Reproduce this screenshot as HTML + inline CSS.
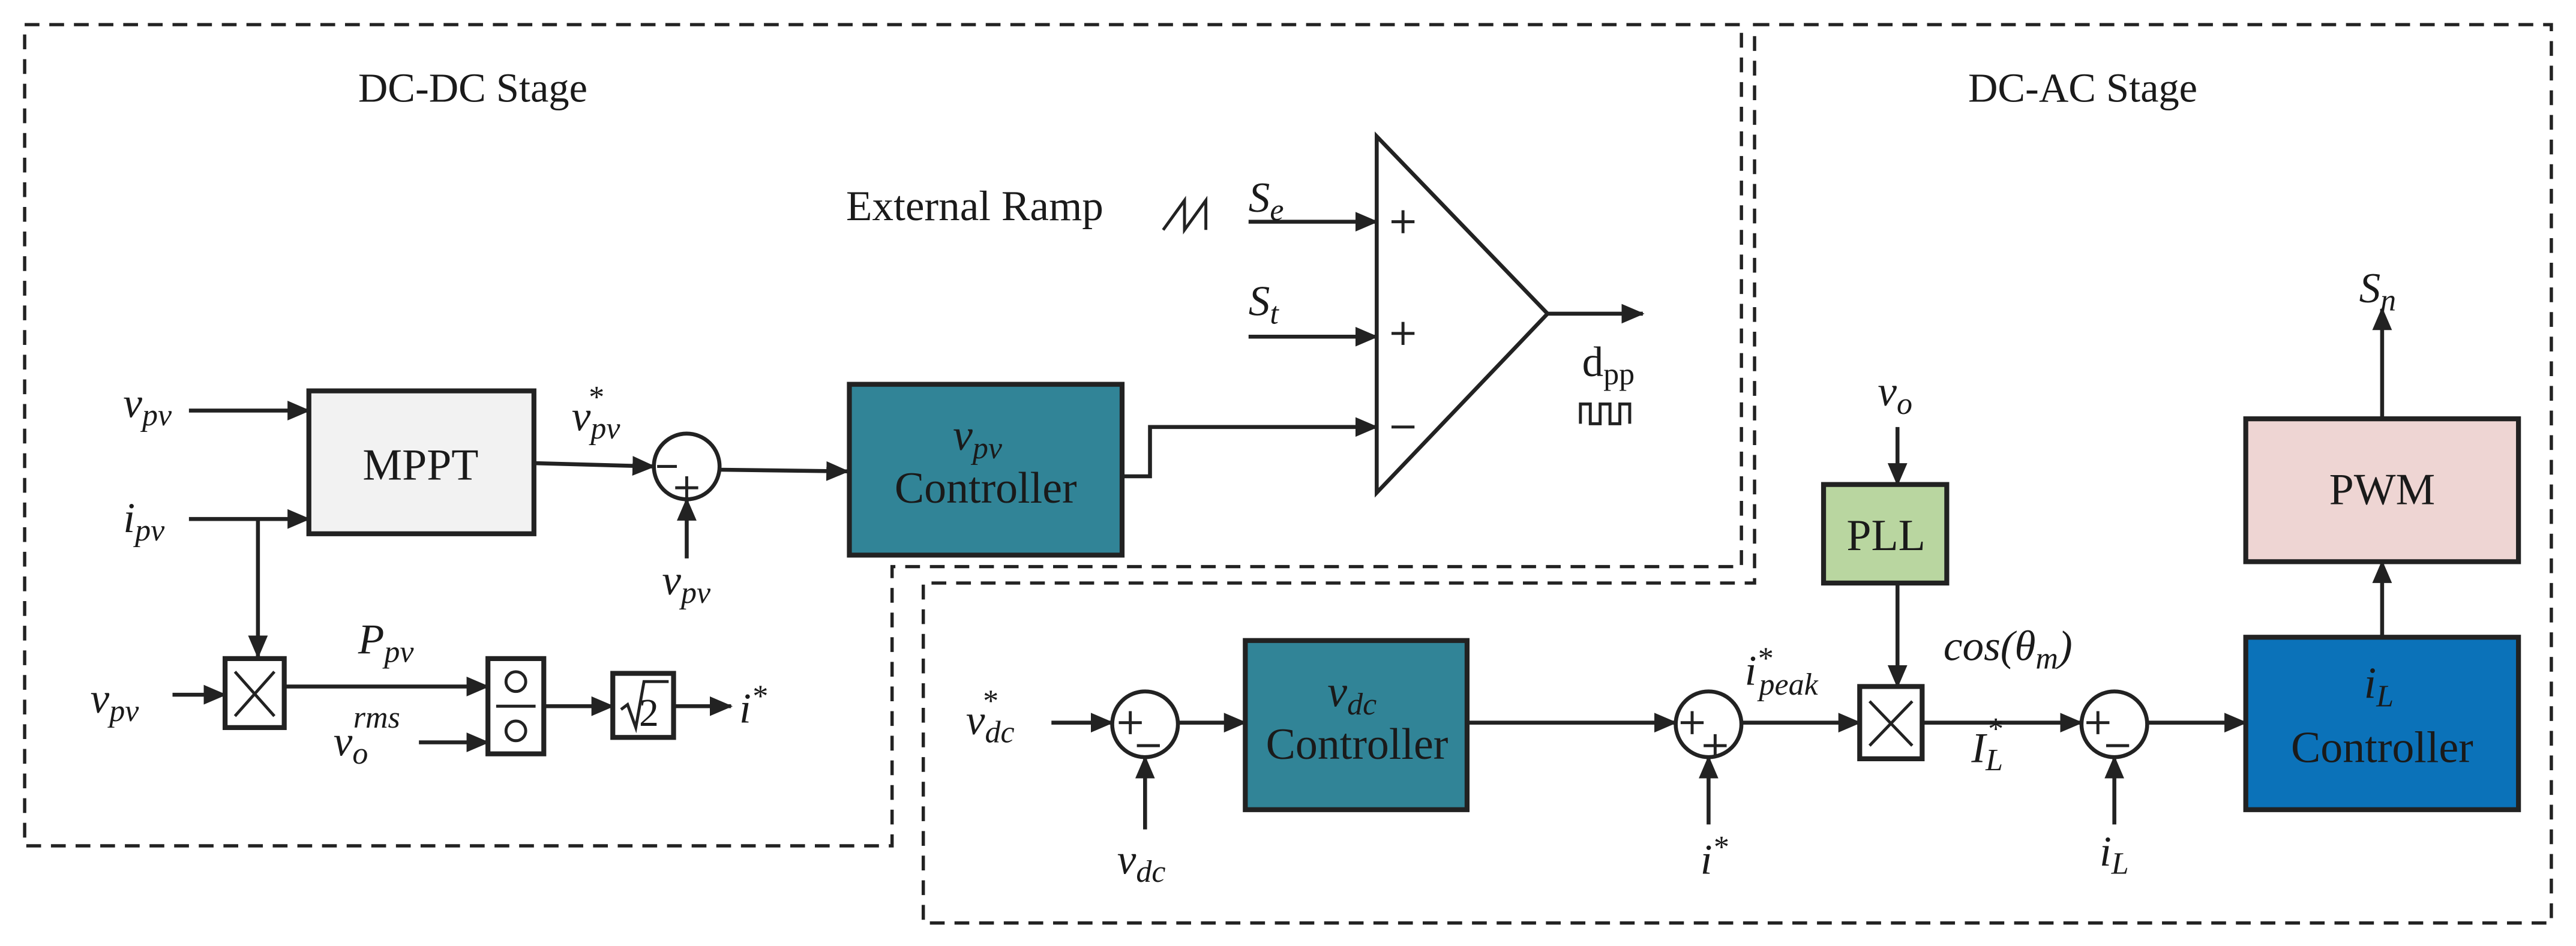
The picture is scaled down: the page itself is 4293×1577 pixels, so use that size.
<!DOCTYPE html>
<html><head><meta charset="utf-8"><style>
html,body{margin:0;padding:0;background:#fff;}
svg{display:block;font-family:"Liberation Serif",serif;}
text,tspan{font-family:"Liberation Serif",serif;fill:#1a1a1a;}
.i{font-style:italic;}
</style></head><body>
<svg width="4293" height="1577" viewBox="0 0 1568 576" xmlns="http://www.w3.org/2000/svg" font-family="Liberation Serif, serif">
<defs>
<marker id="a" markerWidth="14" markerHeight="12" refX="13" refY="6" orient="auto" markerUnits="userSpaceOnUse">
<path d="M0,0 L14,6 L0,12 Z" fill="#222"/></marker>
</defs>
<g fill="none" stroke="#222" stroke-width="2" stroke-dasharray="9,6">
<path d="M15,15 H1060 V345 H543 V515 H15 Z"/>
<path d="M1068,15 H1553 V562 H562 V355 H1068 Z"/>
</g>
<text x="218" y="62" font-size="25">DC-DC Stage</text>
<text x="1198" y="62" font-size="25">DC-AC Stage</text>

<g stroke="#222" stroke-width="2.4" fill="none">
<line x1="115" y1="250" x2="188" y2="250" marker-end="url(#a)"/>
<line x1="115" y1="316" x2="188" y2="316" marker-end="url(#a)"/>
<line x1="157" y1="316" x2="157" y2="400" marker-end="url(#a)"/>
<line x1="105" y1="423" x2="137" y2="423" marker-end="url(#a)"/>
<line x1="173" y1="418" x2="297" y2="418" marker-end="url(#a)"/>
<line x1="255" y1="452" x2="297" y2="452" marker-end="url(#a)"/>
<line x1="331" y1="430" x2="373" y2="430" marker-end="url(#a)"/>
<line x1="410" y1="430" x2="445" y2="430" marker-end="url(#a)"/>
<line x1="325" y1="282" x2="398" y2="284" marker-end="url(#a)"/>
<line x1="418" y1="340" x2="418" y2="304" marker-end="url(#a)"/>
<line x1="438" y1="286" x2="516" y2="287" marker-end="url(#a)"/>
<polyline points="683,290 700,290 700,260 838,260" marker-end="url(#a)"/>
<line x1="760" y1="135" x2="838" y2="135" marker-end="url(#a)"/>
<line x1="760" y1="205" x2="838" y2="205" marker-end="url(#a)"/>
<line x1="942" y1="191" x2="1000" y2="191" marker-end="url(#a)"/>
<line x1="640" y1="440" x2="677" y2="440" marker-end="url(#a)"/>
<line x1="697" y1="505" x2="697" y2="461" marker-end="url(#a)"/>
<line x1="717" y1="440" x2="758" y2="440" marker-end="url(#a)"/>
<line x1="893" y1="440" x2="1020" y2="440" marker-end="url(#a)"/>
<line x1="1040" y1="502" x2="1040" y2="461" marker-end="url(#a)"/>
<line x1="1060" y1="440" x2="1132" y2="440" marker-end="url(#a)"/>
<line x1="1155" y1="260" x2="1155" y2="295" marker-end="url(#a)"/>
<line x1="1155" y1="355" x2="1155" y2="418" marker-end="url(#a)"/>
<line x1="1170" y1="440" x2="1267" y2="440" marker-end="url(#a)"/>
<line x1="1287" y1="502" x2="1287" y2="461" marker-end="url(#a)"/>
<line x1="1307" y1="440" x2="1367" y2="440" marker-end="url(#a)"/>
<line x1="1450" y1="388" x2="1450" y2="342" marker-end="url(#a)"/>
<line x1="1450" y1="255" x2="1450" y2="188" marker-end="url(#a)"/>
</g>

<g stroke="#222" stroke-width="3">
<rect x="188" y="238" width="137" height="87" fill="#f2f2f2"/>
<rect x="517" y="234" width="166" height="104" fill="#318497"/>
<rect x="758" y="390" width="135" height="103" fill="#318497"/>
<rect x="1110" y="295" width="75" height="60" fill="#b9d6a0"/>
<rect x="1367" y="388" width="166" height="105" fill="#0b72b9"/>
<rect x="1367" y="255" width="166" height="87" fill="#eed5d3"/>
<rect x="137" y="401" width="36" height="42" fill="#fff"/>
<rect x="297" y="401" width="34" height="58" fill="#fff"/>
<rect x="373" y="410" width="37" height="39" fill="#fff"/>
<rect x="1132" y="418" width="38" height="44" fill="#fff"/>
</g>
<g stroke="#222" stroke-width="2.4" fill="#fff">
<circle cx="418" cy="284" r="20"/>
<circle cx="697" cy="441" r="20"/>
<circle cx="1040" cy="441" r="20"/>
<circle cx="1287" cy="441" r="20"/>
<polygon points="838,83 942,191 838,300" fill="none"/>
</g>
<g stroke="#222" stroke-width="1.8" fill="none">
<path d="M143,409 L167,436 M167,409 L143,436"/>
<path d="M1138,427 L1164,454 M1164,427 L1138,454"/>
<circle cx="314" cy="415" r="6"/><circle cx="314" cy="445" r="6"/>
<line x1="302" y1="430" x2="326" y2="430"/>
<path d="M378,432 l4,-3 l5,14 l5,-28 h15"/>
<path d="M708,140 l13,-18 v18 l13,-18 v18"/>
<path d="M962,258 v-12 h6 v12 h6 v-12 h6 v12 h6 v-12 h6 v12"/>
<path d="M847,135 h14 M854,128 v14"/>
<path d="M847,203 h14 M854,196 v14"/>
<path d="M847,260 h14"/>
<path d="M400,284 h12 M418,290 v14 M411,297 h14"/>
<path d="M681,440 h14 M688,433 v14 M692,454 h14"/>
<path d="M1023,440 h14 M1030,433 v14 M1037,454 h14 M1044,447 v14"/>
<path d="M1270,440 h14 M1277,433 v14 M1282,454 h14"/>
</g>
<text x="389" y="442" font-size="24">2</text>

<g font-size="27" text-anchor="middle">
<text x="256" y="292">MPPT</text>
<text x="600" y="306">Controller</text>
<text x="826" y="462">Controller</text>
<text x="1148" y="335">PLL</text>
<text x="1450" y="307">PWM</text>
<text x="1450" y="464">Controller</text>
<text class="i" x="595" y="274">v<tspan font-size="19" dy="5">pv</tspan></text>
<text class="i" x="823" y="430">v<tspan font-size="19" dy="5">dc</tspan></text>
<text class="i" x="1448" y="425">i<tspan font-size="19" dy="5">L</tspan></text>
</g>

<g font-size="26">
<text x="515" y="134">External Ramp</text>
<text class="i" x="75" y="254">v<tspan font-size="19" dy="5">pv</tspan></text>
<text class="i" x="75" y="324">i<tspan font-size="19" dy="5">pv</tspan></text>
<text class="i" x="55" y="434">v<tspan font-size="19" dy="5">pv</tspan></text>
<text class="i" x="218" y="398">P<tspan font-size="19" dy="5">pv</tspan></text>
<text class="i" x="203" y="460">v<tspan font-size="19" dy="5">o</tspan><tspan font-size="19" dx="-9" dy="-22">rms</tspan></text>
<text class="i" x="450" y="440">i<tspan font-size="19" dy="-10">*</tspan></text>
<text class="i" x="348" y="262">v<tspan font-size="19" dy="5">pv</tspan><tspan font-size="19" dx="-20" dy="-19">*</tspan></text>
<text class="i" x="403" y="362">v<tspan font-size="19" dy="5">pv</tspan></text>
<text class="i" x="760" y="129">S<tspan font-size="19" dy="5">e</tspan></text>
<text class="i" x="760" y="192">S<tspan font-size="19" dy="5">t</tspan></text>
<text x="963" y="229">d<tspan font-size="19" dy="5">pp</tspan></text>
<text class="i" x="588" y="447">v<tspan font-size="19" dy="5">dc</tspan><tspan font-size="19" dx="-20" dy="-19">*</tspan></text>
<text class="i" x="680" y="532">v<tspan font-size="19" dy="5">dc</tspan></text>
<text class="i" x="1035" y="532">i<tspan font-size="19" dy="-10">*</tspan></text>
<text class="i" x="1062" y="417">i<tspan font-size="19" dy="-10">*</tspan><tspan font-size="19" dx="-8" dy="16">peak</tspan></text>
<text class="i" x="1143" y="247">v<tspan font-size="19" dy="5">o</tspan></text>
<text class="i" x="1183" y="402">cos(θ<tspan font-size="19" dy="5">m</tspan><tspan dy="-5">)</tspan></text>
<text class="i" x="1200" y="464">I<tspan font-size="19" dy="5">L</tspan><tspan font-size="19" dx="-10" dy="-19">*</tspan></text>
<text class="i" x="1278" y="527">i<tspan font-size="19" dy="5">L</tspan></text>
<text class="i" x="1436" y="184">S<tspan font-size="19" dy="5">n</tspan></text>
</g>
</svg>
</body></html>
